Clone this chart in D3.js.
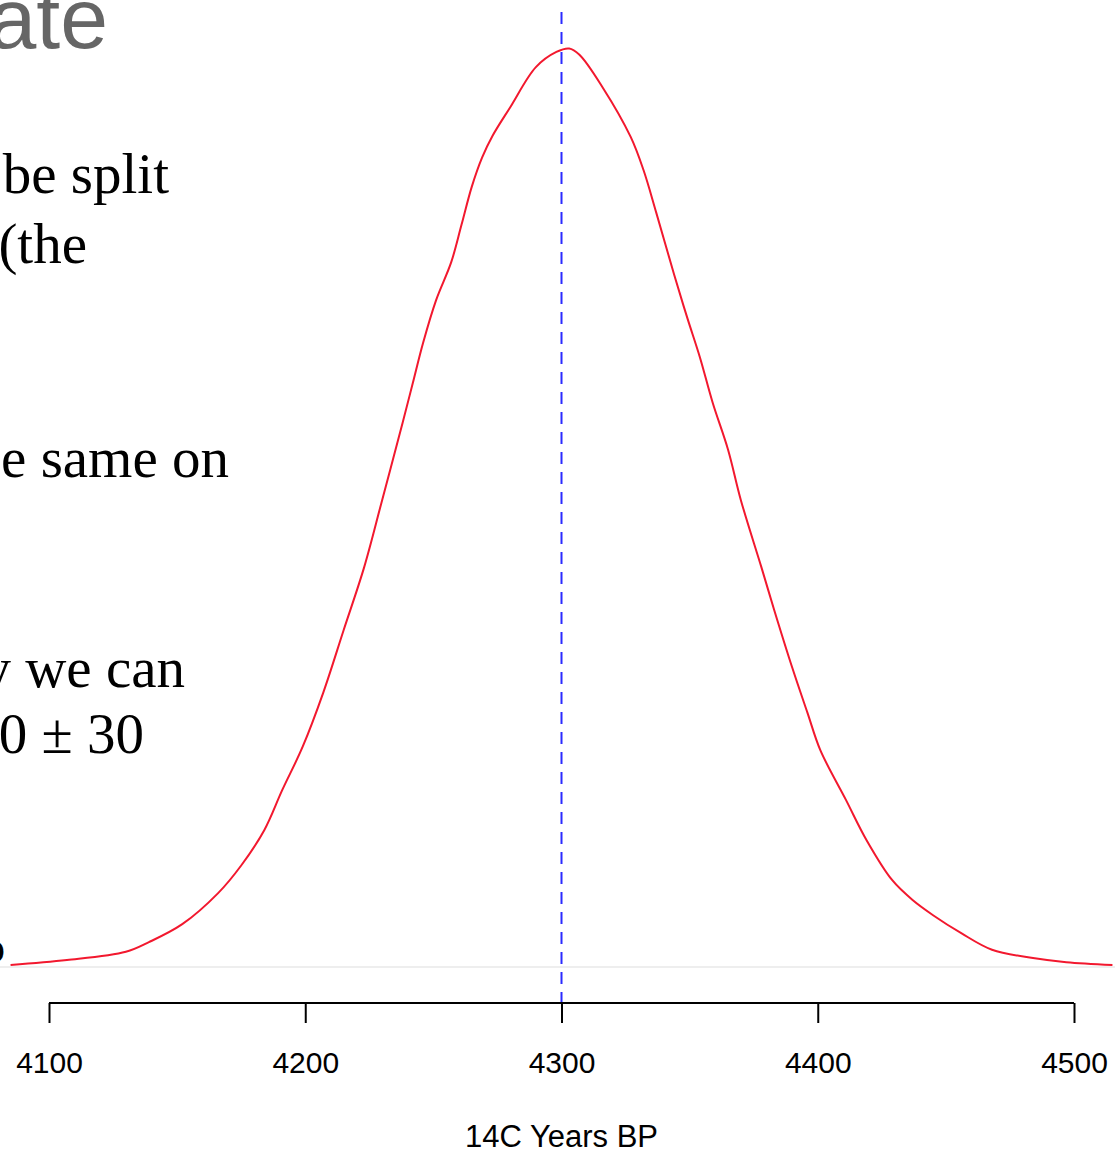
<!DOCTYPE html>
<html>
<head>
<meta charset="utf-8">
<script src="https://cdn.jsdelivr.net/npm/d3@7"></script>
<style>
  body { margin: 0; background: #fff; overflow: hidden; }
  svg { display: block; }
</style>
</head>
<body>
<script>
// density of the simulated 14C ages
var years = [4085, 4107, 4130, 4139, 4152, 4166, 4175, 4184, 4191, 4199,
  4207, 4215, 4223, 4230, 4238, 4242, 4246, 4251, 4257,
  4261, 4265, 4269, 4273, 4280, 4290, 4298, 4303, 4307,
  4316, 4327, 4332, 4337, 4344, 4349, 4354, 4359, 4365, 4370,
  4378, 4383, 4390, 4396, 4401, 4411, 4419, 4429, 4437, 4445,
  4456, 4468, 4484, 4497, 4515];
var density = [0.00003, 0.00010, 0.00022, 0.00036, 0.00062, 0.00107, 0.00147, 0.00198, 0.00256, 0.00319,
  0.00397, 0.00488, 0.00579, 0.00676, 0.00788, 0.00846, 0.00904, 0.00965, 0.01021,
  0.01075, 0.01130, 0.01172, 0.01203, 0.01245, 0.01303, 0.01325, 0.01330, 0.01321,
  0.01274, 0.01202, 0.01154, 0.01092, 0.01002, 0.00941, 0.00883, 0.00817, 0.00749, 0.00676,
  0.00579, 0.00517, 0.00434, 0.00368, 0.00314, 0.00242, 0.00184, 0.00126, 0.00097, 0.00075,
  0.00049, 0.00025, 0.00013, 0.00007, 0.00003];
var meanAge = 4300;
var xTicks = [4100, 4200, 4300, 4400, 4500];
var xTitle = '14C Years BP';

// slide text that sits behind the plot, cut off at the left edge
var slideLines = ['be split', '(the', 'e same on', 'y we can', '0 \u00b1 30'];
var slideRight = [169, 87, 229, 185, 144];
var slideBase = [193, 263, 477, 687, 753];

var W = 1115, H = 1153;
var svg = d3.select('body').append('svg')
  .attr('width', W)
  .attr('height', H);

var x = d3.scaleLinear().domain([4100, 4500]).range([49, 1074]);
var y = d3.scaleLinear().domain([0, d3.max(density)]).range([967, 48.5]);

// title fragment
svg.append('text')
  .attr('x', 108).attr('y', 48)
  .attr('text-anchor', 'end')
  .attr('font-family', 'Liberation Sans, Arial, sans-serif')
  .attr('font-size', 86)
  .attr('fill', '#666666')
  .text('ate');

svg.selectAll('.slide').data(slideLines)
  .enter()
  .append('text')
  .attr('class', 'slide')
  .attr('x', function(d, i) {return slideRight[i]})
  .attr('y', function(d, i) {return slideBase[i]})
  .attr('text-anchor', 'end')
  .attr('font-family', 'Liberation Serif, Times New Roman, serif')
  .attr('font-size', 57)
  .attr('fill', '#000')
  .text(function(d) {return d});

svg.append('text')
  .attr('x', 5).attr('y', 963)
  .attr('text-anchor', 'end')
  .attr('font-family', 'Liberation Sans, Arial, sans-serif')
  .attr('font-weight', 'bold')
  .attr('font-size', 40)
  .attr('fill', '#000')
  .text('o');

// zero line
svg.append('line')
  .attr('x1', 0).attr('x2', W)
  .attr('y1', y(0)).attr('y2', y(0))
  .attr('stroke', '#dddddd')
  .attr('stroke-width', 1);

// mean age
svg.append('line')
  .attr('x1', x(meanAge)).attr('x2', x(meanAge))
  .attr('y1', 12).attr('y2', 1003)
  .attr('stroke', '#2b2bff')
  .attr('stroke-width', 2)
  .attr('stroke-dasharray', '12,8');

var pts = years.map(function(d, i) {return [d, density[i]]});
svg.append('path')
  .datum(pts)
  .attr('fill', 'none')
  .attr('stroke', '#f2182e')
  .attr('stroke-width', 2)
  .attr('d', d3.line()
    .x(function(d) {return x(d[0])})
    .y(function(d) {return y(d[1])})
    .curve(d3.curveCatmullRom.alpha(0.5)));

// x axis, R style: line only between first and last tick
var ax = svg.append('g')
  .attr('transform', 'translate(0,1003)')
  .call(d3.axisBottom(x).tickValues(xTicks).tickSize(20).tickSizeOuter(0).tickPadding(29)
    .tickFormat(d3.format('d')));
ax.select('.domain').remove();
ax.append('line')
  .attr('x1', x(xTicks[0])).attr('x2', x(xTicks[xTicks.length - 1]))
  .attr('stroke', '#000').attr('stroke-width', 2);
ax.selectAll('.tick line').attr('stroke', '#000').attr('stroke-width', 2);
ax.selectAll('.tick text')
  .attr('fill', '#000')
  .attr('font-family', 'Liberation Sans, Arial, sans-serif')
  .attr('font-size', 30);

svg.append('text')
  .attr('x', x(4300)).attr('y', 1147)
  .attr('text-anchor', 'middle')
  .attr('font-family', 'Liberation Sans, Arial, sans-serif')
  .attr('font-size', 31)
  .attr('fill', '#000')
  .text(xTitle);
</script>
</body>
</html>
